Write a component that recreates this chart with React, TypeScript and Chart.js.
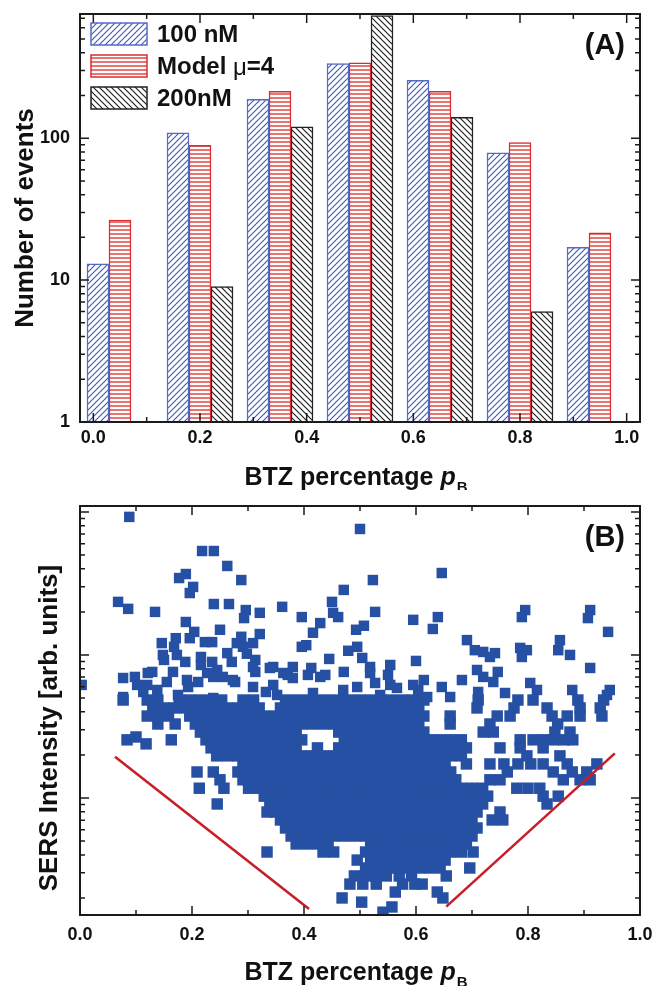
import React, { useEffect, useRef } from 'react';
import { Chart, registerables } from 'chart.js';

Chart.register(...registerables);

const FONT = '"Liberation Sans", Arial, Helvetica, sans-serif';

// ---------- Panel (A): histogram of events ----------
const binCenters = [0.05, 0.2, 0.35, 0.5, 0.65, 0.8, 0.95];
const events100nM = [13, 109, 188, 336, 256, 79, 17];
const eventsModel = [26.5, 89, 214, 339, 214, 93, 21.5];
const events200nM: (number | null)[] = [null, 9, 120, 730, 140, 6, null];
const legendLabelsA = ['100 nM', 'Model ', 'μ', '=4', '200nM'];

const xTicksMajor = [0, 0.2, 0.4, 0.6, 0.8, 1.0];
const xTickLabels = ['0.0', '0.2', '0.4', '0.6', '0.8', '1.0'];
const xTicksMinor = [0.1, 0.3, 0.5, 0.7, 0.9];
const yTicksMajorA = [1, 10, 100];
const yTickLabelsA = ['1', '10', '100'];
const yTicksMinorA = [2, 3, 4, 5, 6, 7, 8, 9, 20, 30, 40, 50, 60, 70, 80, 90, 200, 300, 400, 500, 600, 700];

// ---------- Panel (B): SERS intensity vs BTZ percentage ----------
const yTicksMajorB = [1, 10, 100];
const yTicksMinorB = [0.2, 0.3, 0.4, 0.5, 0.6, 0.7, 0.8, 0.9, 2, 3, 4, 5, 6, 7, 8, 9, 20, 30, 40, 50, 60, 70, 80, 90];

// rows: [intensity, [p_B values]]
const sersUpperRows: [number, number[]][] = [
  [92.3, [0.088]],
  [76.0, [0.5]],
  [53.3, [0.218, 0.239]],
  [41.9, [0.263]],
  [37.4, [0.646]],
  [36.8, [0.189]],
  [34.5, [0.177]],
  [33.4, [0.288, 0.523]],
  [29.9, [0.202]],
  [28.5, [0.471]],
  [27.1, [0.196]],
  [23.5, [0.068, 0.45]],
  [22.7, [0.239, 0.266]],
  [21.7, [0.361]],
  [21.0, [0.086]],
  [20.6, [0.296, 0.795, 0.911]],
  [20.0, [0.134, 0.527]],
  [19.7, [0.321, 0.452]],
  [18.4, [0.396, 0.461, 0.639, 0.789]],
  [18.1, [0.293, 0.907]],
  [17.6, [0.595]],
  [17.0, [0.189]],
  [16.7, [0.429]],
  [16.0, [0.507]],
  [15.2, [0.63]],
  [15.0, [0.25, 0.493]],
  [14.5, [0.204, 0.943]],
  [14.3, [0.416]],
  [14.0, [0.321]],
  [13.4, [0.288]],
  [13.1, [0.196, 0.171]],
  [12.7, [0.691, 0.857]],
  [12.3, [0.223, 0.236]],
  [12.1, [0.146, 0.28, 0.309]],
  [11.7, [0.404]],
  [11.4, [0.168, 0.291, 0.396, 0.495]],
  [11.2, [0.786]],
  [10.8, [0.705, 0.798, 0.854]],
  [10.7, [0.479]],
  [10.5, [0.72]],
  [10.3, [0.263, 0.741]],
  [10.2, [0.298]],
  [10.0, [0.148, 0.173, 0.875]],
  [9.68, [0.216, 0.732, 0.789]],
  [9.53, [0.504]],
  [9.38, [0.445]],
  [9.23, [0.15, 0.313]],
  [9.08, [0.6]],
  [8.94, [0.188, 0.236, 0.271]],
  [8.51, [0.216, 0.554]],
  [8.24, [0.309, 0.345, 0.38, 0.518]],
  [8.11, [0.339, 0.413, 0.911]],
  [7.85, [0.245, 0.709]],
  [7.61, [0.129, 0.166, 0.313, 0.471, 0.746]],
  [7.48, [0.121, 0.227, 0.363, 0.518]],
  [7.25, [0.371, 0.407, 0.438, 0.55]],
  [7.02, [0.098, 0.238, 0.255, 0.429, 0.72]],
  [6.9, [0.077, 0.38]],
  [6.68, [0.191, 0.273, 0.614, 0.682]],
  [6.47, [0.155, 0.211, 0.277, 0.738]],
  [6.37, [0.527, 0.804]],
  [6.17, [0.003, 0.102, 0.12, 0.345, 0.554, 0.595]],
  [5.97, [0.193, 0.309, 0.495, 0.646]],
  [5.88, [0.566]],
  [5.69, [0.138, 0.47, 0.604, 0.816, 0.879, 0.946]],
  [5.51, [0.113, 0.332, 0.711]],
  [5.42, [0.416, 0.759]],
  [5.25, [0.175, 0.352, 0.536, 0.941]],
  [5.08, [0.077, 0.62, 0.661]],
  [5.0, [0.238]],
];

const sersCoreRows: [number, number[]][] = [
  [4.84, [0.077, 0.12, 0.139, 0.177, 0.196, 0.215, 0.234, 0.253, 0.291, 0.31, 0.367, 0.386, 0.405, 0.424, 0.443, 0.462, 0.481, 0.5, 0.519, 0.538, 0.557, 0.576, 0.595, 0.614, 0.711, 0.782, 0.809, 0.889, 0.935]],
  [4.26, [0.13, 0.149, 0.168, 0.187, 0.206, 0.225, 0.244, 0.263, 0.282, 0.301, 0.32, 0.358, 0.377, 0.396, 0.415, 0.434, 0.453, 0.472, 0.491, 0.51, 0.529, 0.548, 0.567, 0.586, 0.605, 0.709, 0.775, 0.834, 0.893, 0.929]],
  [3.74, [0.12, 0.139, 0.158, 0.196, 0.215, 0.234, 0.253, 0.272, 0.291, 0.31, 0.329, 0.348, 0.367, 0.386, 0.405, 0.424, 0.443, 0.462, 0.481, 0.5, 0.519, 0.538, 0.557, 0.576, 0.595, 0.614, 0.661, 0.745, 0.768, 0.843, 0.87, 0.893, 0.932]],
  [3.29, [0.139, 0.17, 0.206, 0.225, 0.244, 0.263, 0.282, 0.301, 0.32, 0.339, 0.358, 0.377, 0.396, 0.415, 0.434, 0.453, 0.472, 0.491, 0.51, 0.529, 0.548, 0.567, 0.586, 0.605, 0.661, 0.732, 0.853]],
  [2.89, [0.215, 0.234, 0.253, 0.272, 0.291, 0.31, 0.329, 0.348, 0.367, 0.386, 0.462, 0.481, 0.5, 0.519, 0.538, 0.557, 0.576, 0.595, 0.614, 0.72, 0.738, 0.848, 0.875]],
  [2.67, [0.1]],
  [2.55, [0.084, 0.163, 0.225, 0.244, 0.263, 0.282, 0.301, 0.32, 0.339, 0.358, 0.377, 0.396, 0.472, 0.491, 0.51, 0.529, 0.548, 0.567, 0.586, 0.605, 0.624, 0.643, 0.662, 0.681, 0.786, 0.809, 0.827, 0.845, 0.864, 0.88]],
  [2.39, [0.118]],
  [2.24, [0.234, 0.253, 0.272, 0.291, 0.31, 0.329, 0.348, 0.367, 0.386, 0.424, 0.462, 0.481, 0.5, 0.519, 0.538, 0.557, 0.576, 0.595, 0.614, 0.633, 0.652, 0.671, 0.69, 0.75, 0.786, 0.827]],
  [1.97, [0.244, 0.263, 0.282, 0.301, 0.32, 0.339, 0.358, 0.377, 0.396, 0.415, 0.434, 0.453, 0.472, 0.491, 0.51, 0.529, 0.548, 0.567, 0.586, 0.605, 0.624, 0.643, 0.662, 0.681, 0.798, 0.857]],
  [1.73, [0.291, 0.31, 0.329, 0.348, 0.367, 0.386, 0.405, 0.424, 0.443, 0.462, 0.481, 0.5, 0.519, 0.538, 0.557, 0.576, 0.595, 0.614, 0.633, 0.652, 0.69, 0.732, 0.757, 0.782, 0.805, 0.827, 0.87, 0.923]],
  [1.52, [0.209, 0.238, 0.282, 0.301, 0.32, 0.339, 0.358, 0.377, 0.396, 0.415, 0.434, 0.453, 0.472, 0.491, 0.51, 0.529, 0.548, 0.567, 0.586, 0.605, 0.624, 0.643, 0.662, 0.763, 0.845, 0.879, 0.905]],
  [1.34, [0.25, 0.291, 0.31, 0.329, 0.348, 0.367, 0.386, 0.405, 0.424, 0.443, 0.462, 0.481, 0.5, 0.519, 0.538, 0.557, 0.576, 0.595, 0.614, 0.633, 0.652, 0.671, 0.732, 0.75, 0.863, 0.893, 0.911]],
  [1.17, [0.213, 0.257, 0.301, 0.32, 0.339, 0.358, 0.377, 0.396, 0.415, 0.434, 0.453, 0.472, 0.491, 0.51, 0.529, 0.548, 0.567, 0.586, 0.605, 0.624, 0.643, 0.662, 0.681, 0.7, 0.719, 0.78, 0.8, 0.821]],
  [1.03, [0.329, 0.348, 0.367, 0.386, 0.405, 0.424, 0.443, 0.462, 0.481, 0.5, 0.519, 0.538, 0.557, 0.576, 0.595, 0.614, 0.633, 0.652, 0.671, 0.69, 0.709, 0.728, 0.827, 0.854]],
  [0.908, [0.245, 0.339, 0.358, 0.377, 0.396, 0.415, 0.434, 0.453, 0.472, 0.491, 0.51, 0.529, 0.548, 0.567, 0.586, 0.605, 0.624, 0.643, 0.662, 0.681, 0.7, 0.719, 0.834]],
  [0.798, [0.334, 0.348, 0.367, 0.386, 0.405, 0.424, 0.443, 0.462, 0.481, 0.5, 0.519, 0.538, 0.557, 0.576, 0.595, 0.614, 0.633, 0.652, 0.671, 0.69, 0.709, 0.75]],
  [0.702, [0.358, 0.377, 0.396, 0.415, 0.434, 0.453, 0.472, 0.491, 0.51, 0.529, 0.548, 0.567, 0.586, 0.605, 0.624, 0.643, 0.662, 0.681, 0.7, 0.736, 0.755]],
  [0.617, [0.367, 0.386, 0.405, 0.424, 0.443, 0.462, 0.481, 0.5, 0.519, 0.538, 0.557, 0.576, 0.595, 0.614, 0.633, 0.652, 0.671, 0.69, 0.709]],
  [0.542, [0.377, 0.396, 0.415, 0.434, 0.453, 0.472, 0.491, 0.51, 0.529, 0.548, 0.567, 0.586, 0.605, 0.624, 0.643, 0.662, 0.681, 0.7]],
  [0.477, [0.386, 0.405, 0.424, 0.443, 0.519, 0.538, 0.557, 0.576, 0.595, 0.614, 0.633, 0.652, 0.671, 0.69]],
  [0.419, [0.334, 0.434, 0.453, 0.51, 0.529, 0.548, 0.567, 0.586, 0.605, 0.624, 0.643, 0.662, 0.681, 0.702]],
  [0.368, [0.495, 0.519, 0.538, 0.557, 0.576, 0.595, 0.614, 0.633, 0.652]],
  [0.324, [0.51, 0.529, 0.548, 0.567, 0.586, 0.605, 0.624, 0.643, 0.696]],
  [0.285, [0.49, 0.509, 0.528, 0.547, 0.57, 0.592, 0.654]],
  [0.25, [0.482, 0.505, 0.529, 0.576, 0.598, 0.611]],
  [0.22, [0.563, 0.638]],
  [0.2, [0.468, 0.648]],
  [0.187, [0.503]],
  [0.173, [0.557]],
  [0.159, [0.541]],
];

const leftLinePB = [0.0625, 0.409];
const leftLineI = [1.94, 0.1675];
const rightLinePB = [0.654, 0.955];
const rightLineI = [0.174, 2.05];

// ---------- helpers ----------
function hatch(kind: 'fwd' | 'back' | 'horiz', color: string, size: number, lw: number): CanvasPattern {
  const c = document.createElement('canvas');
  c.width = size;
  c.height = size;
  const g = c.getContext('2d')!;
  g.fillStyle = '#ffffff';
  g.fillRect(0, 0, size, size);
  g.strokeStyle = color;
  g.lineWidth = lw;
  g.beginPath();
  if (kind === 'horiz') {
    g.moveTo(0, size / 2);
    g.lineTo(size, size / 2);
  } else if (kind === 'fwd') {
    g.moveTo(-1, size + 1);
    g.lineTo(size + 1, -1);
    g.moveTo(-size / 2 - 1, size / 2 + 1);
    g.lineTo(size / 2 + 1, -size / 2 - 1);
    g.moveTo(size / 2 - 1, size * 1.5 + 1);
    g.lineTo(size * 1.5 + 1, size / 2 - 1);
  } else {
    g.moveTo(-1, -1);
    g.lineTo(size + 1, size + 1);
    g.moveTo(-size / 2 - 1, size / 2 - 1);
    g.lineTo(size / 2 + 1, size * 1.5 + 1);
    g.moveTo(size / 2 - 1, -size / 2 - 1);
    g.lineTo(size * 1.5 + 1, size / 2 + 1);
  }
  g.stroke();
  return g.createPattern(c, 'repeat')!;
}

type Frame = {
  xMajor: number[];
  xMinor: number[];
  xLabels: string[];
  xLabelY: number;
  yMajor: number[];
  yMinor: number[];
  yLabels: string[] | null;
  yTitle: string;
  yTitleX: number;
  yTitleY: number;
  xTitleCx: number;
  xTitleBaseline: number;
  panel: string;
  panelY: number;
  extra?: (ctx: CanvasRenderingContext2D) => void;
};

function drawXTitle(ctx: CanvasRenderingContext2D, cx: number, baseline: number) {
  const t1 = 'BTZ percentage ';
  const t2 = 'p';
  const t3 = 'B';
  const f1 = `bold 25px ${FONT}`;
  const f2 = `italic bold 25px ${FONT}`;
  const f3 = `bold 15px ${FONT}`;
  ctx.font = f1;
  const w1 = ctx.measureText(t1).width;
  ctx.font = f2;
  const w2 = ctx.measureText(t2).width;
  ctx.font = f3;
  const w3 = ctx.measureText(t3).width;
  let x = cx - (w1 + w2 + w3 + 1) / 2;
  ctx.textAlign = 'left';
  ctx.textBaseline = 'alphabetic';
  ctx.font = f1;
  ctx.fillText(t1, x, baseline);
  x += w1;
  ctx.font = f2;
  ctx.fillText(t2, x, baseline);
  x += w2 + 1;
  ctx.font = f3;
  ctx.fillText(t3, x, baseline + 7);
}

function framePlugin(f: Frame) {
  return {
    id: 'frame',
    afterDatasetsDraw(chart: Chart) {
      const { ctx, chartArea: a } = chart;
      const xs = chart.scales.x;
      const ys = chart.scales.y;
      ctx.save();
      ctx.strokeStyle = '#1a1a1a';
      ctx.lineWidth = 1.5;
      ctx.beginPath();
      const tick = (vals: number[], len: number, axis: 'x' | 'y') => {
        for (const v of vals) {
          if (axis === 'x') {
            const p = xs.getPixelForValue(v);
            if (p < a.left - 0.5 || p > a.right + 0.5) continue;
            ctx.moveTo(p, a.bottom);
            ctx.lineTo(p, a.bottom - len);
            ctx.moveTo(p, a.top);
            ctx.lineTo(p, a.top + len);
          } else {
            const p = ys.getPixelForValue(v);
            if (p < a.top - 0.5 || p > a.bottom + 0.5) continue;
            ctx.moveTo(a.left, p);
            ctx.lineTo(a.left + len, p);
            ctx.moveTo(a.right, p);
            ctx.lineTo(a.right - len, p);
          }
        }
      };
      tick(f.xMajor, 9, 'x');
      tick(f.xMinor, 5, 'x');
      tick(f.yMajor, 9, 'y');
      tick(f.yMinor, 5, 'y');
      ctx.stroke();
      ctx.lineWidth = 2;
      ctx.strokeRect(a.left, a.top, a.right - a.left, a.bottom - a.top);

      ctx.fillStyle = '#111111';
      ctx.font = `bold 18px ${FONT}`;
      ctx.textAlign = 'center';
      ctx.textBaseline = 'middle';
      f.xMajor.forEach((v, i) => ctx.fillText(f.xLabels[i], xs.getPixelForValue(v), f.xLabelY));
      if (f.yLabels) {
        ctx.textAlign = 'right';
        f.yMajor.forEach((v, i) => ctx.fillText(f.yLabels![i], a.left - 10, ys.getPixelForValue(v)));
      }

      drawXTitle(ctx, f.xTitleCx, f.xTitleBaseline);

      ctx.save();
      ctx.translate(f.yTitleX, f.yTitleY);
      ctx.rotate(-Math.PI / 2);
      ctx.font = `bold 26px ${FONT}`;
      ctx.textAlign = 'center';
      ctx.textBaseline = 'alphabetic';
      ctx.fillText(f.yTitle, 0, 0);
      ctx.restore();

      ctx.font = `bold 29px ${FONT}`;
      ctx.textAlign = 'right';
      ctx.textBaseline = 'middle';
      ctx.fillText(f.panel, 625, f.panelY);

      if (f.extra) f.extra(ctx);
      ctx.restore();
    },
  };
}

export default function App() {
  const refA = useRef<HTMLCanvasElement>(null);
  const refB = useRef<HTMLCanvasElement>(null);

  useEffect(() => {
    const blueLine = 'rgb(60, 85, 185)';
    const blueBorder = 'rgb(85, 105, 200)';
    const redLine = 'rgb(225, 70, 70)';
    const redBorder = 'rgb(215, 45, 45)';
    const blackLine = '#222222';
    const patBlue = hatch('fwd', blueLine, 6, 1.1);
    const patRed = hatch('horiz', redLine, 4, 1.5);
    const patBlack = hatch('back', blackLine, 6, 1.2);

    const toXY = (ys: (number | null)[]) => binCenters.map((x, i) => ({ x, y: ys[i] }));

    const legend = (ctx: CanvasRenderingContext2D) => {
      const items = [
        { pat: patBlue, border: blueBorder, y: 23 },
        { pat: patRed, border: redBorder, y: 55 },
        { pat: patBlack, border: blackLine, y: 87 },
      ];
      items.forEach((it) => {
        ctx.fillStyle = it.pat;
        ctx.fillRect(91, it.y, 56, 22);
        ctx.strokeStyle = it.border;
        ctx.lineWidth = 1.5;
        ctx.strokeRect(91, it.y, 56, 22);
      });
      ctx.fillStyle = '#111111';
      ctx.textAlign = 'left';
      ctx.textBaseline = 'middle';
      ctx.font = `bold 24px ${FONT}`;
      ctx.fillText(legendLabelsA[0], 157, 35);
      let x = 157;
      ctx.fillText(legendLabelsA[1], x, 67);
      x += ctx.measureText(legendLabelsA[1]).width;
      ctx.font = `24px ${FONT}`;
      ctx.fillText(legendLabelsA[2], x, 68);
      x += ctx.measureText(legendLabelsA[2]).width;
      ctx.font = `bold 24px ${FONT}`;
      ctx.fillText(legendLabelsA[3], x, 67);
      ctx.fillText(legendLabelsA[4], 157, 99);
    };

    const chartA = new Chart(refA.current!, {
      type: 'bar',
      data: {
        datasets: [
          { label: '100 nM', data: toXY(events100nM), backgroundColor: patBlue, borderColor: blueBorder, borderWidth: 1.5, barThickness: 22 },
          { label: 'Model μ=4', data: toXY(eventsModel), backgroundColor: patRed, borderColor: redBorder, borderWidth: 1.5, barThickness: 22 },
          { label: '200nM', data: toXY(events200nM), backgroundColor: patBlack, borderColor: blackLine, borderWidth: 1.5, barThickness: 22 },
        ] as any,
      },
      options: {
        animation: false,
        responsive: false,
        events: [],
        layout: { padding: { left: 0, right: 13, top: 14, bottom: 0 } },
        plugins: { legend: { display: false }, tooltip: { enabled: false } },
        scales: {
          x: {
            type: 'linear',
            min: -0.025,
            max: 1.025,
            offset: false,
            bounds: 'data',
            grid: { display: false, offset: false },
            border: { display: false },
            ticks: { display: false },
            afterFit: (s: any) => { s.height = 68; },
          },
          y: {
            type: 'logarithmic',
            min: 1,
            max: 750,
            bounds: 'data',
            grid: { display: false },
            border: { display: false },
            ticks: { display: false },
            afterFit: (s: any) => { s.width = 80; },
          },
        },
      } as any,
      plugins: [
        framePlugin({
          xMajor: xTicksMajor,
          xMinor: xTicksMinor,
          xLabels: xTickLabels,
          xLabelY: 438,
          yMajor: yTicksMajorA,
          yMinor: yTicksMinorA,
          yLabels: yTickLabelsA,
          yTitle: 'Number of events',
          yTitleX: 33,
          yTitleY: 218,
          xTitleCx: 356,
          xTitleBaseline: 485,
          panel: '(A)',
          panelY: 46,
          extra: legend,
        }) as any,
      ],
    });

    const toPoints = (rows: [number, number[]][]) => rows.flatMap(([I, xs]) => xs.map((x) => ({ x, y: I })));
    const red = 'rgb(200, 30, 40)';
    const blue = 'rgb(38, 80, 163)';
    const scatterStyle = {
      pointStyle: 'rect',
      pointBackgroundColor: blue,
      backgroundColor: blue,
      pointBorderWidth: 0,
      borderWidth: 0,
      clip: 0,
      order: 1,
    };
    const chartB = new Chart(refB.current!, {
      type: 'scatter',
      data: {
        datasets: [
          {
            type: 'line',
            data: leftLinePB.map((x, i) => ({ x, y: leftLineI[i] })),
            borderColor: red,
            borderWidth: 2.6,
            pointRadius: 0,
            showLine: true,
            fill: false,
            order: 0,
          },
          {
            type: 'line',
            data: rightLinePB.map((x, i) => ({ x, y: rightLineI[i] })),
            borderColor: red,
            borderWidth: 2.6,
            pointRadius: 0,
            showLine: true,
            fill: false,
            order: 0,
          },
          { data: toPoints(sersUpperRows), pointRadius: 7.4, ...scatterStyle },
          { data: toPoints(sersCoreRows), pointRadius: 8.1, ...scatterStyle },
        ] as any,
      },
      options: {
        animation: false,
        responsive: false,
        events: [],
        layout: { padding: { left: 0, right: 13, top: 16, bottom: 0 } },
        plugins: { legend: { display: false }, tooltip: { enabled: false } },
        scales: {
          x: {
            type: 'linear',
            min: 0,
            max: 1,
            bounds: 'data',
            grid: { display: false },
            border: { display: false },
            ticks: { display: false },
            afterFit: (s: any) => { s.height = 71; },
          },
          y: {
            type: 'logarithmic',
            min: 0.152,
            max: 110,
            bounds: 'data',
            grid: { display: false },
            border: { display: false },
            ticks: { display: false },
            afterFit: (s: any) => { s.width = 80; },
          },
        },
      } as any,
      plugins: [
        framePlugin({
          xMajor: xTicksMajor,
          xMinor: xTicksMinor,
          xLabels: xTickLabels,
          xLabelY: 445,
          yMajor: yTicksMajorB,
          yMinor: yTicksMinorB,
          yLabels: null,
          yTitle: 'SERS Intensity [arb. units]',
          yTitleX: 57,
          yTitleY: 238,
          xTitleCx: 356,
          xTitleBaseline: 490,
          panel: '(B)',
          panelY: 48,
        }) as any,
      ],
    });

    return () => {
      chartA.destroy();
      chartB.destroy();
    };
  }, []);

  return (
    <div style={{ position: 'absolute', left: 0, top: 0, width: 653, height: 986, background: '#ffffff' }}>
      <canvas ref={refA} width={653} height={490} style={{ position: 'absolute', left: 0, top: 0 }} />
      <canvas ref={refB} width={653} height={496} style={{ position: 'absolute', left: 0, top: 490 }} />
    </div>
  );
}
